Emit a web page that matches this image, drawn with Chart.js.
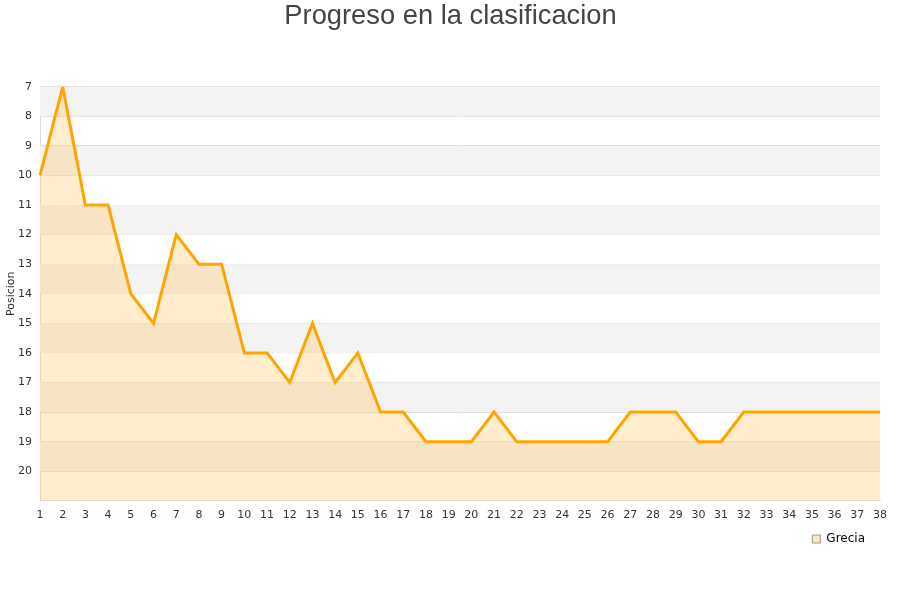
<!DOCTYPE html>
<html>
<head>
<meta charset="utf-8">
<script src="https://cdn.jsdelivr.net/npm/chart.js@4/dist/chart.umd.min.js"></script>
<style>
  body { margin: 0; background: #fff; }
  #wrap { width: 900px; height: 600px; }
</style>
</head>
<body>
<div id="wrap"><canvas id="grafico"></canvas></div>
<script>
const jornadas = [];
for (let i = 1; i <= 38; i++) jornadas.push(String(i));

const posicionGrecia = [10, 7, 11, 11, 14, 15, 12, 13, 13, 16, 16, 17, 15, 17, 16, 18, 18, 19, 19, 19,
  18, 19, 19, 19, 19, 19, 18, 18, 18, 19, 19, 18, 18, 18, 18, 18, 18, 18];

// bandas alternas gris / blanco
const bandas = {
  id: 'bandas',
  afterLayout(chart) {
    // centrar titulo en el lienzo y mover la leyenda un poco a la izquierda
    chart.titleBlock.right += 16;
    chart.legend.right -= 12;
  },
  beforeDatasetsDraw(chart) {
    const { ctx, chartArea, scales } = chart;
    const y = scales.y;
    ctx.save();
    for (let v = 7; v < 21; v++) {
      if ((v - 7) % 2 === 0) {
        const y1 = y.getPixelForValue(v);
        const y2 = y.getPixelForValue(v + 1);
        ctx.fillStyle = '#f3f3f3';
        ctx.fillRect(chartArea.left, y1, chartArea.right - chartArea.left, y2 - y1);
      }
    }
    ctx.restore();
  }
};

new Chart(document.getElementById('grafico'), {
  type: 'line',
  data: {
    labels: jornadas,
    datasets: [{
      label: 'Grecia',
      data: posicionGrecia,
      borderColor: '#ffa500',
      backgroundColor: 'rgba(255, 190, 80, 0.28)',
      borderWidth: 3,
      pointRadius: 0,
      tension: 0,
      fill: 'start'
    }]
  },
  options: {
    responsive: true,
    maintainAspectRatio: false,
    animation: false,
    layout: { padding: { left: 5, right: 20, top: 0, bottom: 45 } },
    plugins: {
      title: {
        display: true,
        text: 'Progreso en la clasificacion',
        color: '#444',
        font: { family: 'Liberation Sans, Arial', size: 27.3, weight: 'normal' },
        padding: { top: 0, bottom: 54 }
      },
      legend: {
        position: 'bottom',
        align: 'end',
        labels: {
          boxWidth: 8,
          boxHeight: 8,
          padding: 3,
          color: '#222',
          font: { family: 'DejaVu Sans', size: 12 },
          generateLabels(chart) {
            return [{
              text: 'Grecia',
              fillStyle: '#fde8c0',
              strokeStyle: '#999',
              lineWidth: 1,
              datasetIndex: 0
            }];
          }
        }
      },
      tooltip: { enabled: false }
    },
    scales: {
      x: {
        offset: false,
        grid: { display: false, drawTicks: false },
        border: { color: '#ddd' },
        ticks: {
          color: '#333',
          font: { family: 'DejaVu Sans', size: 11 },
          maxRotation: 0,
          autoSkip: false,
          padding: 8
        }
      },
      y: {
        reverse: true,
        min: 7,
        max: 21,
        afterFit(scale) { scale.width = 35; },
        title: {
          display: true,
          text: 'Posicion',
          color: '#333',
          font: { family: 'DejaVu Sans', size: 11 },
          padding: 0
        },
        grid: { color: '#ddd', drawTicks: false },
        border: { color: '#ddd' },
        ticks: {
          stepSize: 1,
          color: '#333',
          font: { family: 'DejaVu Sans', size: 11 },
          padding: 8,
          callback: (v) => (v <= 20 ? v : '')
        }
      }
    }
  },
  plugins: [bandas]
});
</script>
</body>
</html>
